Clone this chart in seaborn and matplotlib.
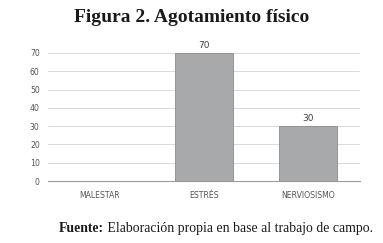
import matplotlib
matplotlib.use("Agg")
import matplotlib.pyplot as plt
import seaborn as sns
import pandas as pd

categories = ["MALESTAR", "ESTRÉS", "NERVIOSISMO"]
values = [0, 70, 30]
yticks = [0, 10, 20, 30, 40, 50, 60, 70]
title = "Figura 2. Agotamiento físico"
source_bold = "Fuente:"
source_text = " Elaboración propia en base al trabajo de campo."

sns.set_theme(style="white")
plt.rcParams['font.family'] = ['DejaVu Sans']

df = pd.DataFrame({"cat": categories, "val": values})

fig = plt.figure(figsize=(3.83, 2.43), dpi=100)
ax = fig.add_axes([48/383, 62/243, 312/383, 128/243])

sns.barplot(data=df, x="cat", y="val", ax=ax, color="#a8a9ab", width=0.55,
            edgecolor="#8c8c8c", linewidth=0.6, saturation=1)

ax.set_ylim(0, 70)
ax.set_yticks(yticks)
ax.set_xlim(-0.5, 2.5)
ax.yaxis.grid(True, color="#d8d0d4", linewidth=0.6)
ax.set_axisbelow(True)
for s in ["top", "right", "left"]:
    ax.spines[s].set_visible(False)
ax.spines["bottom"].set_color("#9a9a9a")
ax.spines["bottom"].set_linewidth(0.8)
ax.tick_params(axis="both", length=0, labelsize=5.6, labelcolor="#555555", pad=6)
ax.tick_params(axis="x", pad=7)
ax.set_xlabel("")
ax.set_ylabel("")

labels = [str(v) if v > 0 else "" for v in values]
ax.bar_label(ax.containers[0], labels=labels, fontsize=6.5, color="#404040", padding=2, clip_on=False)

fig.text(0.5, 1 - 18/243, title, ha="center", va="center", fontsize=14,
         fontweight="bold", family="Liberation Serif", color="#1a1a1a")

base_y = 1 - 232/243
t1 = fig.text(59/383, base_y, source_bold, ha="left", va="baseline", fontsize=9.9,
              fontweight="bold", family="Liberation Serif", color="#1a1a1a")
fig.canvas.draw()
bb = t1.get_window_extent()
fig.text(bb.x1 / fig.bbox.width, base_y, source_text, ha="left", va="baseline",
         fontsize=9.9, family="Liberation Serif", color="#1a1a1a")

fig.savefig("out.png", dpi=100)
